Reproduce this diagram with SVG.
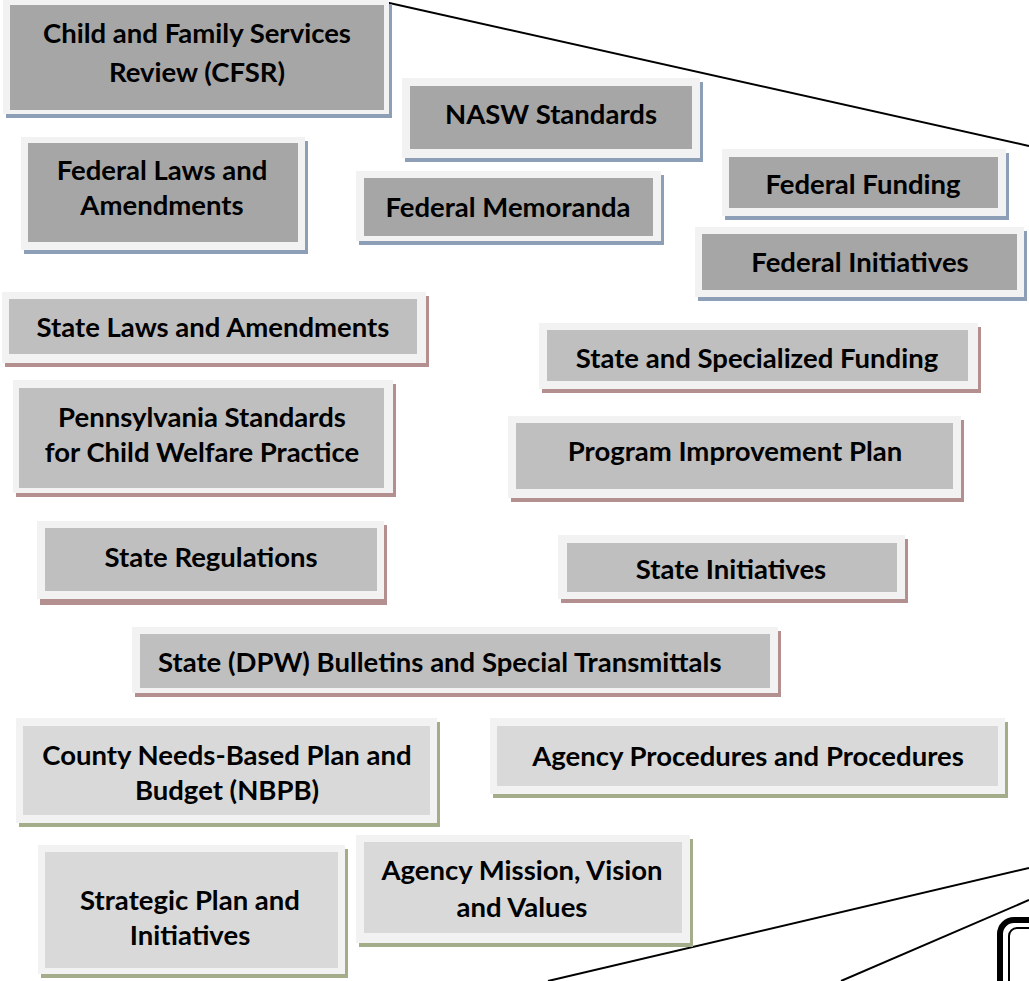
<svg xmlns="http://www.w3.org/2000/svg" width="1029" height="981" viewBox="0 0 1029 981">
<style>
.frame{fill:#f2f2f2}
.fed .sh{fill:#8d9fb7}.fed .in{fill:#a6a6a6}
.st .sh{fill:#b48f8f}.st .in{fill:#bfbfbf}
.co .sh{fill:#a3ad8a}.co .in{fill:#d9d9d9}
text{font-family:Lato,"Liberation Sans",sans-serif;font-weight:bold;font-size:27.5px;fill:#000;text-anchor:middle}
.ln{stroke:#000;stroke-width:2;fill:none}
</style>
<rect width="1029" height="981" fill="#fff"/>
<g id="connectors">
<line class="ln" x1="376" y1="0" x2="1029" y2="146"/>
<line class="ln" x1="548" y1="981" x2="1029" y2="868"/>
<line class="ln" x1="841" y1="981" x2="1029" y2="900"/>
<rect x="1000" y="920" width="100" height="100" rx="14" fill="none" stroke="#000" stroke-width="6"/>
<rect x="1009" y="928" width="100" height="100" rx="8" fill="none" stroke="#000" stroke-width="2"/>
</g>
<g id="cfsr" class="fed"><rect class="sh" x="6" y="4" width="386" height="114"/><rect class="frame" x="3" y="0" width="386" height="114"/><rect class="in" x="10" y="5" width="374" height="105"/><text x="197" y="43">Child and Family Services</text><text x="197" y="82">Review (CFSR)</text></g>
<g id="nasw" class="fed"><rect class="sh" x="405" y="82" width="298" height="80"/><rect class="frame" x="402" y="78" width="298" height="80"/><rect class="in" x="410" y="86" width="282" height="63"/><text x="551" y="124">NASW Standards</text></g>
<g id="fedlaws" class="fed"><rect class="sh" x="24" y="141" width="284" height="113"/><rect class="frame" x="21" y="137" width="284" height="113"/><rect class="in" x="28" y="143" width="270" height="99"/><text x="162" y="180">Federal Laws and</text><text x="162" y="215">Amendments</text></g>
<g id="fedmemo" class="fed"><rect class="sh" x="359" y="175" width="305" height="70"/><rect class="frame" x="356" y="171" width="305" height="70"/><rect class="in" x="364" y="178" width="289" height="58"/><text x="508" y="217">Federal Memoranda</text></g>
<g id="fedfund" class="fed"><rect class="sh" x="725" y="153" width="284" height="67"/><rect class="frame" x="722" y="149" width="284" height="67"/><rect class="in" x="729" y="157" width="269" height="51"/><text x="863" y="194">Federal Funding</text></g>
<g id="fedinit" class="fed"><rect class="sh" x="698" y="231" width="329" height="70"/><rect class="frame" x="695" y="227" width="329" height="70"/><rect class="in" x="702" y="234" width="315" height="56"/><text x="860" y="272">Federal Initiatives</text></g>
<g id="statelaws" class="st"><rect class="sh" x="5" y="296" width="424" height="71"/><rect class="frame" x="2" y="292" width="424" height="71"/><rect class="in" x="9" y="299" width="408" height="55"/><text x="213" y="337">State Laws and Amendments</text></g>
<g id="pastd" class="st"><rect class="sh" x="16" y="384" width="380" height="113"/><rect class="frame" x="13" y="380" width="380" height="113"/><rect class="in" x="19" y="388" width="365" height="100"/><text x="202" y="427">Pennsylvania Standards</text><text x="202" y="462">for Child Welfare Practice</text></g>
<g id="statefund" class="st"><rect class="sh" x="542" y="327" width="439" height="66"/><rect class="frame" x="539" y="323" width="439" height="66"/><rect class="in" x="547" y="330" width="421" height="51"/><text x="757" y="368">State and Specialized Funding</text></g>
<g id="pip" class="st"><rect class="sh" x="511" y="420" width="453" height="82"/><rect class="frame" x="508" y="416" width="453" height="82"/><rect class="in" x="516" y="423" width="437" height="66"/><text x="735" y="461">Program Improvement Plan</text></g>
<g id="stateregs" class="st"><rect class="sh" x="40" y="525" width="347" height="80"/><rect class="frame" x="37" y="521" width="347" height="78"/><rect class="in" x="45" y="528" width="332" height="63"/><text x="211" y="567">State Regulations</text></g>
<g id="stateinit" class="st"><rect class="sh" x="561" y="539" width="347" height="64"/><rect class="frame" x="558" y="535" width="347" height="64"/><rect class="in" x="567" y="543" width="330" height="49"/><text x="731" y="579">State Initiatives</text></g>
<g id="dpw" class="st"><rect class="sh" x="135" y="631" width="646" height="66"/><rect class="frame" x="132" y="627" width="646" height="66"/><rect class="in" x="140" y="634" width="630" height="54"/><text x="158" y="672" style="text-anchor:start">State (DPW) Bulletins and Special Transmittals</text></g>
<g id="nbpb" class="co"><rect class="sh" x="19" y="722" width="421" height="105"/><rect class="frame" x="16" y="718" width="421" height="105"/><rect class="in" x="23" y="726" width="407" height="89"/><text x="227" y="765">County Needs-Based Plan and</text><text x="227" y="800">Budget (NBPB)</text></g>
<g id="procs" class="co"><rect class="sh" x="493" y="722" width="515" height="76"/><rect class="frame" x="490" y="718" width="515" height="76"/><rect class="in" x="497" y="726" width="501" height="60"/><text x="748" y="766">Agency Procedures and Procedures</text></g>
<g id="mission" class="co"><rect class="sh" x="359" y="839" width="334" height="108"/><rect class="frame" x="356" y="835" width="334" height="108"/><rect class="in" x="364" y="842" width="318" height="91"/><text x="522" y="880">Agency Mission, Vision</text><text x="522" y="917">and Values</text></g>
<g id="strategic" class="co"><rect class="sh" x="41" y="849" width="307" height="129"/><rect class="frame" x="38" y="845" width="307" height="129"/><rect class="in" x="45" y="852" width="293" height="116"/><text x="190" y="910">Strategic Plan and</text><text x="190" y="945">Initiatives</text></g>
</svg>
